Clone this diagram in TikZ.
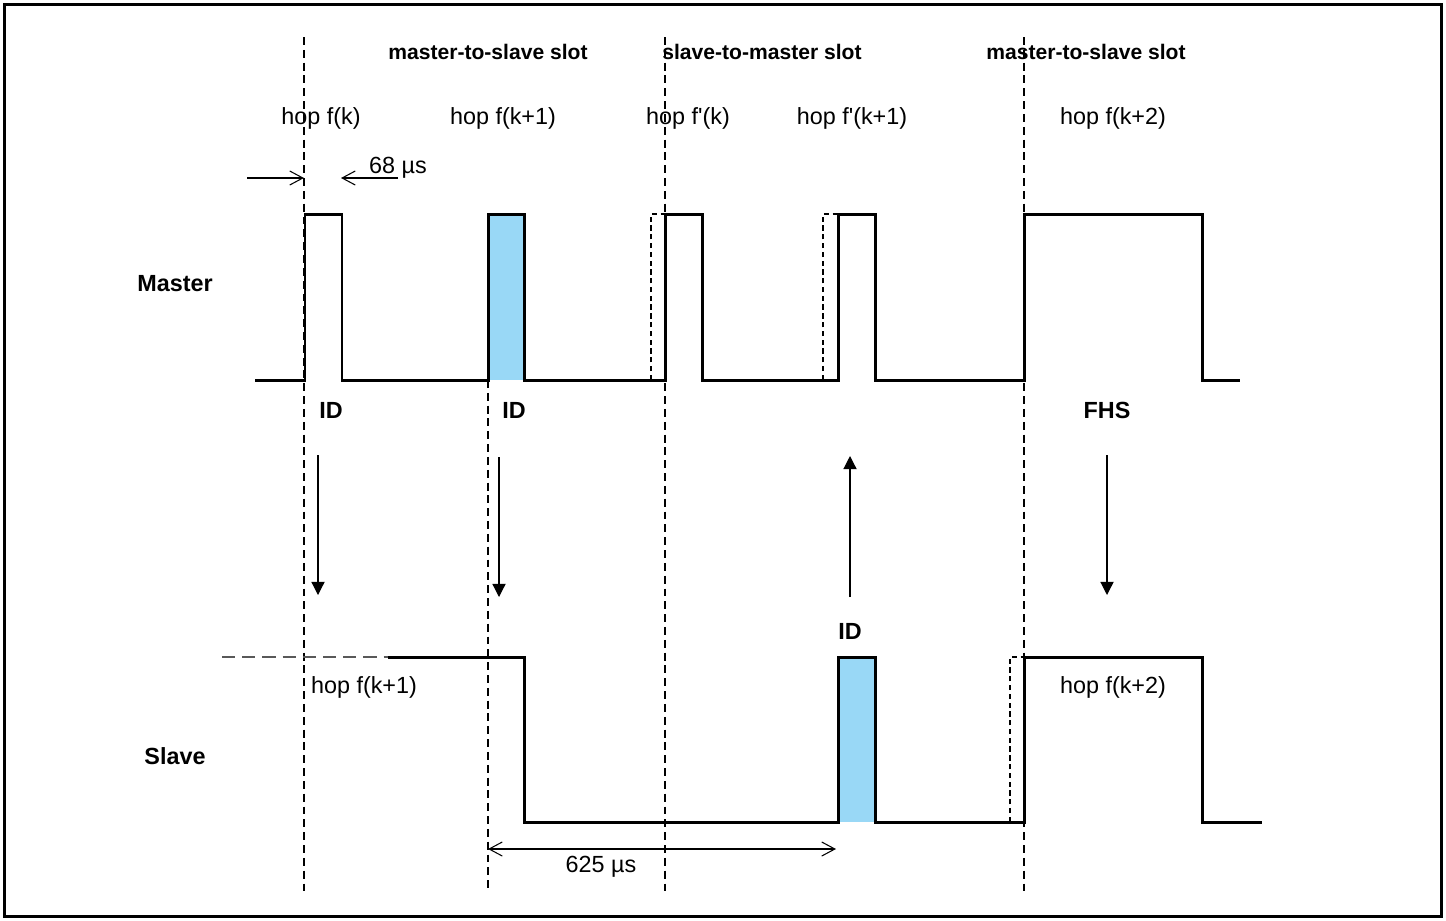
\documentclass[tikz,border=0pt]{standalone}
\usepackage{fontspec}
\setmainfont{Liberation Sans}
\usetikzlibrary{arrows.meta}

\definecolor{idblue}{RGB}{153,216,246}

\tikzset{
	signal/.style={line width=1.7pt, line join=miter},
	slotline/.style={dash pattern=on 4.5pt off 2.8pt, line width=0.6pt},
	preline/.style={dash pattern=on 3pt off 2pt, line width=0.8pt},
	flow/.style={line width=0.7pt, -{Triangle[length=7.5pt,width=7.5pt]}},
	dim/.style={line width=0.6pt},
	barb/.style={-{Straight Barb[length=7.5pt,width=8pt]}},
	slottext/.style={font=\fontsize{12}{14}\selectfont\bfseries, inner sep=0pt},
	hoptext/.style={font=\fontsize{13.3}{16}\selectfont, inner sep=0pt},
	labtext/.style={font=\fontsize{13.3}{16}\selectfont\bfseries, inner sep=0pt}
}

\begin{document}
\begin{tikzpicture}[x=0.02cm, y=-0.02cm]
			
			\useasboundingbox (0,0) rectangle (1446,920);
			
			%Frame
			\draw[line width=1.7pt] (4.5,4.5) rectangle (1441.5,916);
			
			%Slot borders
			\draw[slotline] (304,37) -- (304,893);
			\draw[slotline] (488,380) -- (488,893);
			\draw[slotline] (665,37) -- (665,893);
			\draw[slotline] (1024,37) -- (1024,893);
			
			%Slot titles
			\node (mslot1) at (488,52) [slottext]{master-to-slave slot};
			\node (sslot) at (762,52) [slottext]{slave-to-master slot};
			\node (mslot2) at (1086,52) [slottext]{master-to-slave slot};
			
			%Hop frequencies
			\node (hopk) at (321,118) [hoptext]{hop f(k)};
			\node (hopk1) at (503,118) [hoptext]{hop f(k+1)};
			\node (hoprk) at (688,118) [hoptext]{hop f\textquotesingle(k)};
			\node (hoprk1) at (852,118) [hoptext]{hop f\textquotesingle(k+1)};
			\node (hopk2) at (1113,118) [hoptext]{hop f(k+2)};
			
			%68 us
			\coordinate (d1) at (247,178);
			\coordinate (d2) at (304,178);
			\coordinate (d3) at (341,178);
			\coordinate (d4) at (398,178);
			\draw[dim, barb] (d1) -- (d2);
			\draw[dim, barb] (d4) -- (d3);
			\node (t68) at (398,168) [hoptext]{68 µs};
			
			%Master
			\node (master) at (175,284) [labtext]{Master};
			\fill[idblue] (488,214) rectangle (524,380);
			\draw[preline] (651,380) |- (665,214);
			\draw[preline] (823,380) |- (838,214);
			\draw[signal] (255,380) -- (305,380) -- (305,214) -- (342,214) -- (342,380)
			-- (488,380) -- (488,214) -- (524,214) -- (524,380)
			-- (665,380) -- (665,214) -- (702,214) -- (702,380)
			-- (838,380) -- (838,214) -- (875,214) -- (875,380)
			-- (1024,380) -- (1024,214) -- (1202,214) -- (1202,380) -- (1240,380);
			
			%Packets
			\node (id1) at (331,410) [labtext]{ID};
			\node (id2) at (514,410) [labtext]{ID};
			\node (fhs) at (1107,410) [labtext]{FHS};
			\node (id3) at (850,631) [labtext]{ID};
			
			%Arrows
			\coordinate (a1) at (318,455);
			\coordinate (b1) at (318,595);
			\coordinate (a2) at (499,457);
			\coordinate (b2) at (499,597);
			\coordinate (a3) at (850,597);
			\coordinate (b3) at (850,456);
			\coordinate (a4) at (1107,455);
			\coordinate (b4) at (1107,595);
			\draw[flow] (a1) -- (b1);
			\draw[flow] (a2) -- (b2);
			\draw[flow] (a3) -- (b3);
			\draw[flow] (a4) -- (b4);
			
			%Slave
			\node (slave) at (175,756) [labtext]{Slave};
			\fill[idblue] (838,657) rectangle (875,822);
			\draw[dash pattern=on 7.5pt off 4pt, line width=0.6pt, black!65] (222,657) -- (388,657);
			\draw[preline] (1010,822) |- (1024,657);
			\draw[signal] (388,657) -- (524,657) -- (524,822)
			-- (838,822) -- (838,657) -- (875,657) -- (875,822)
			-- (1024,822) -- (1024,657) -- (1202,657) -- (1202,822) -- (1262,822);
			\node (shopk1) at (364,687) [hoptext]{hop f(k+1)};
			\node (shopk2) at (1113,687) [hoptext]{hop f(k+2)};
			
			%625 us
			\coordinate (p1) at (488,849);
			\coordinate (p2) at (836,849);
			\draw[dim, {Straight Barb[length=7.5pt,width=8pt]}-{Straight Barb[length=7.5pt,width=8pt]}] (p1) -- (p2);
			\node (t625) at (601,867) [hoptext]{625 µs};
			
\end{tikzpicture}
\end{document}
